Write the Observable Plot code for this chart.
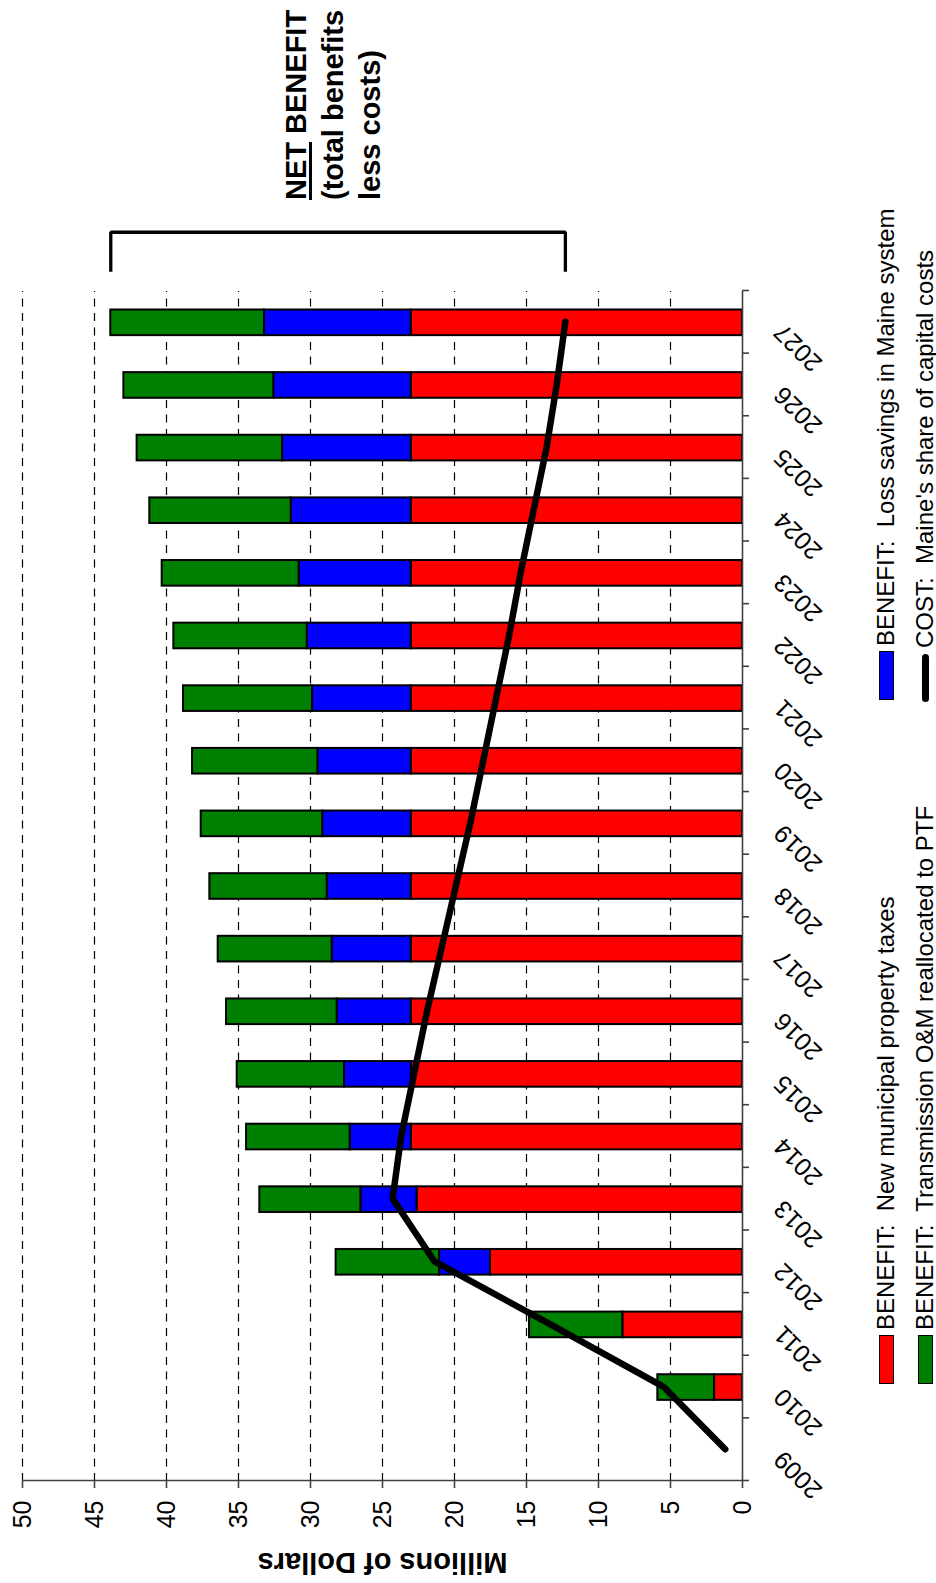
<!DOCTYPE html>
<html>
<head>
<meta charset="utf-8">
<script src="https://cdn.jsdelivr.net/npm/d3@7"></script>
<script src="https://cdn.jsdelivr.net/npm/@observablehq/plot@0.6"></script>
<style>
  html, body { margin: 0; padding: 0; background: #fff; overflow: hidden; }
  body { width: 936px; height: 1583px; position: relative; }
  #rot {
    position: absolute; left: 0; top: 0;
    width: 1583px; height: 936px;
    transform-origin: 0 0;
    transform: translate(0px, 1583px) rotate(-90deg);
    font-family: "Liberation Sans", Arial, sans-serif;
    background: #fff;
  }
  #chart svg { display: block; }
  #title {
    position: absolute; left: 1383px; top: 278px;
    font-size: 29px; font-weight: bold; line-height: 37px; color: #000;
    white-space: nowrap;
  }
  #title u { text-decoration-thickness: 3px; text-underline-offset: 3px; }
  .lg { position: absolute; display: flex; align-items: center; font-size: 24px; color: #000; white-space: nowrap; }
  .sw { width: 47px; height: 13px; border: 1.8px solid #000; margin-right: 5px; flex: none; }
  .ln { width: 48px; height: 7px; background: #000; border-radius: 3.5px; margin-right: 6px; margin-left: 1px; flex: none; }
</style>
</head>
<body>
<div id="rot">
  <div id="chart"></div>
  <div id="title"><u>NET</u> BENEFIT<br>(total benefits<br>less costs)</div>
  <div id="legend"></div>
</div>
<script>
// ---- data ----
const years = [2009, 2010, 2011, 2012, 2013, 2014, 2015, 2016, 2017, 2018, 2019, 2020, 2021, 2022, 2023, 2024, 2025, 2026, 2027];
const propertyTaxes = [null, 1.94, 8.31, 17.5, 22.6, 23.0, 23.0, 23.0, 23.0, 23.0, 23.0, 23.0, 23.0, 23.0, 23.0, 23.0, 23.0, 23.0, 23.0];
const lossSavings = [null, 0, 0, 3.54, 3.9, 4.25, 4.64, 5.15, 5.5, 5.84, 6.15, 6.49, 6.86, 7.23, 7.79, 8.34, 8.94, 9.55, 10.2];
const transmissionOM = [null, 3.94, 6.48, 7.18, 7.02, 7.19, 7.45, 7.68, 7.91, 8.15, 8.44, 8.7, 8.96, 9.26, 9.51, 9.82, 10.1, 10.41, 10.67];
const capitalCosts = [1.2, 5.5, 13.4, 21.4, 24.3, 23.7, 22.8, 21.9, 20.9, 19.9, 18.9, 18.0, 17.1, 16.2, 15.4, 14.5, 13.6, 12.9, 12.3];
const valueTicks = [0, 5, 10, 15, 20, 25, 30, 35, 40, 45, 50];

const seriesNames = [
  "BENEFIT:  New municipal property taxes",
  "BENEFIT:  Loss savings in Maine system",
  "BENEFIT:  Transmission O&M reallocated to PTF"
];
const costName = "COST:  Maine's share of capital costs";
const seriesColors = ["#ff0000", "#0000ff", "#008000"];
const seriesValues = [propertyTaxes, lossSavings, transmissionOM];

// ---- stacked segments ----
const segments = [];
years.forEach((yr, i) => {
  let base = 0;
  seriesValues.forEach((vals, s) => {
    const v = vals[i];
    if (!v) return;
    segments.push({year: yr, y1: base, y2: base + v, color: seriesColors[s]});
    base += v;
  });
});
const totals = years.map((yr, i) => seriesValues.reduce((a, vals) => a + (vals[i] || 0), 0));
const costData = years.map((yr, i) => ({year: yr, cost: capitalCosts[i]}));
const boundaries = years.map(y => y - 0.5).concat([years[years.length - 1] + 0.5]);

const last = years.length - 1;
const lastYear = years[last];
const bracket = [
  {x: lastYear + 0.8, y: totals[last]},
  {x: lastYear + 1.43, y: totals[last]},
  {x: lastYear + 1.43, y: capitalCosts[last]},
  {x: lastYear + 0.8, y: capitalCosts[last]}
];

const axisGray = "#404040";

const plot = Plot.plot({
  width: 1583,
  height: 840,
  marginLeft: 102,
  marginRight: 291,
  marginTop: 22,
  marginBottom: 98,
  style: {fontFamily: '"Liberation Sans", Arial, sans-serif', fontSize: "24px", color: "#000", background: "#fff"},
  x: {type: "linear", domain: [years[0] - 0.5, lastYear + 0.5]},
  y: {domain: [0, 50]},
  color: {type: "identity"},
  marks: [
    Plot.ruleY(valueTicks.filter(v => v > 0), {stroke: "#000", strokeWidth: 1.2, strokeDasharray: "8,6.5"}),
    Plot.rect(segments, {
      x1: d => d.year - 0.5, x2: d => d.year + 0.5, y1: "y1", y2: "y2",
      fill: "color", stroke: "#000", strokeWidth: 2, insetLeft: 18.5, insetRight: 18.5
    }),
    Plot.ruleX([years[0] - 0.5], {y1: 0, y2: 50, stroke: axisGray, strokeWidth: 1.6}),
    Plot.ruleY([0], {stroke: axisGray, strokeWidth: 1.6}),
    Plot.axisY(valueTicks, {anchor: "left", tickSize: 7, tickPadding: 13, stroke: axisGray, strokeWidth: 1.6, fontSize: 25, label: null, tickFormat: "d"}),
    Plot.axisX(boundaries, {anchor: "bottom", tickSize: 7, stroke: axisGray, strokeWidth: 1.6, tickFormat: () => "", label: null}),
    Plot.axisX(years, {anchor: "bottom", tickSize: 0, tickPadding: 36, tickRotate: -45, dx: -6, fontSize: 25, tickFormat: "d", label: null}),
    Plot.line(costData, {x: "year", y: "cost", stroke: "#000", strokeWidth: 6.5, strokeLinecap: "round", strokeLinejoin: "miter"}),
    Plot.line(bracket, {x: "x", y: "y", stroke: "#000", strokeWidth: 3.3, strokeLinejoin: "miter", strokeLinecap: "butt"}),
    Plot.text(["Millions of Dollars"], {frameAnchor: "left", textAnchor: "middle", rotate: -90, dx: -82, fontSize: 29, fontWeight: "bold"})
  ]
});
document.getElementById("chart").appendChild(plot);

// ---- legend ----
const legendItems = [
  {label: seriesNames[0], color: seriesColors[0], left: 199, top: 876},
  {label: seriesNames[2], color: seriesColors[2], left: 199, top: 915},
  {label: seriesNames[1], color: seriesColors[1], left: 883, top: 876},
  {label: costName, color: null, left: 880, top: 915}
];
const lg = document.getElementById("legend");
legendItems.forEach(it => {
  const d = document.createElement("div");
  d.className = "lg";
  d.style.left = it.left + "px";
  d.style.top = it.top + "px";
  d.style.height = "20px";
  const s = document.createElement("span");
  if (it.color) { s.className = "sw"; s.style.background = it.color; }
  else { s.className = "ln"; }
  d.appendChild(s);
  const t = document.createElement("span");
  t.textContent = it.label;
  t.style.whiteSpace = "pre";
  d.appendChild(t);
  lg.appendChild(d);
});
</script>
</body>
</html>
